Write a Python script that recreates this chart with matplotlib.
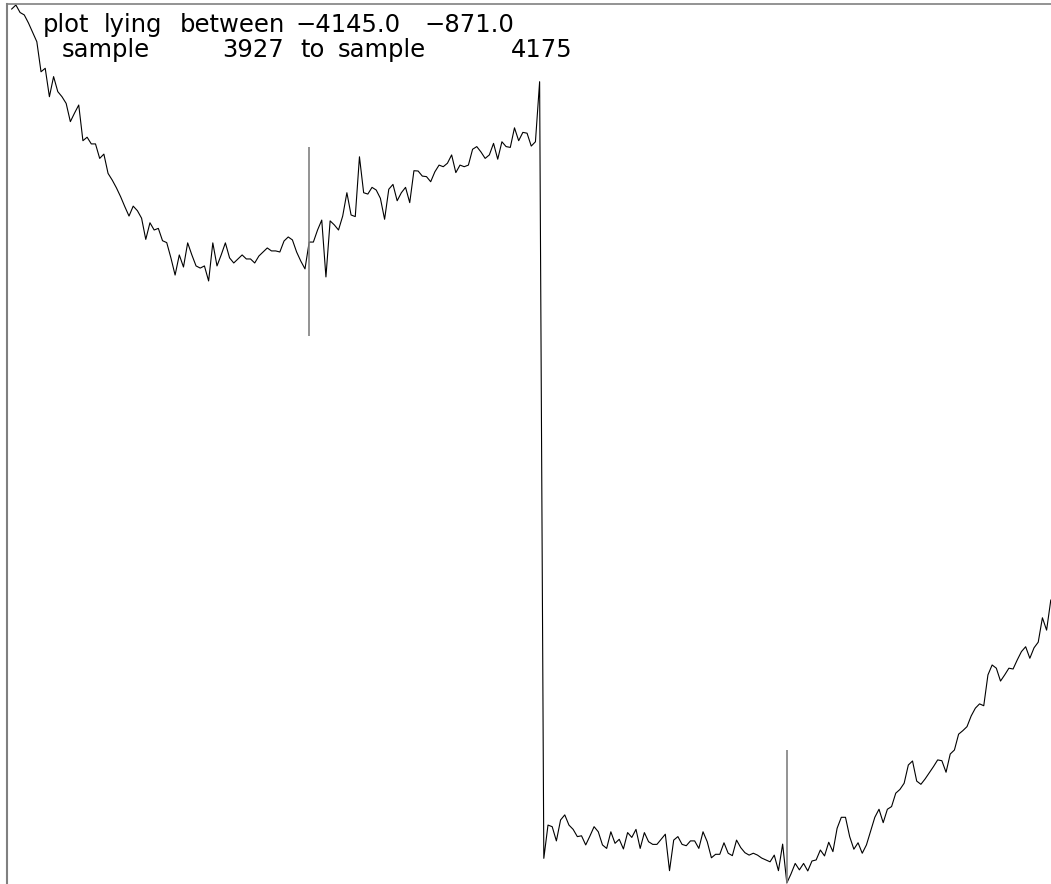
import numpy as np
import matplotlib
matplotlib.use("Agg")
import matplotlib.pyplot as plt

# trace window
first_sample = 3927
last_sample = 4175
trace_min = -4145.0
trace_max = -871.0

trace = [
    -886, -871, -899, -908, -938, -973, -1008, -1120, -1107, -1213,
    -1138, -1194, -1213, -1238, -1306, -1274, -1244, -1377, -1364, -1389,
    -1389, -1443, -1427, -1499, -1524, -1553, -1586, -1623, -1658, -1621,
    -1638, -1666, -1745, -1683, -1710, -1704, -1750, -1757, -1814, -1878,
    -1803, -1848, -1758, -1803, -1844, -1852, -1844, -1900, -1758, -1844,
    -1803, -1758, -1814, -1833, -1818, -1803, -1818, -1818, -1833, -1807,
    -1792, -1777, -1788, -1788, -1792, -1751, -1736, -1747, -1792, -1826,
    -1855, -1755, -1755, -1710, -1673, -1885, -1676, -1691, -1710, -1658,
    -1571, -1654, -1660, -1437, -1571, -1576, -1551, -1561, -1592, -1670,
    -1558, -1540, -1601, -1571, -1551, -1608, -1489, -1490, -1509, -1511,
    -1530, -1493, -1468, -1474, -1461, -1430, -1496, -1468, -1474, -1468,
    -1409, -1399, -1419, -1443, -1430, -1387, -1446, -1381, -1399, -1402,
    -1329, -1377, -1346, -1349, -1397, -1381, -1157, -4053, -3929, -3935,
    -3988, -3910, -3891, -3929, -3945, -3972, -3969, -4003, -3970, -3935,
    -3954, -4003, -4016, -3954, -3997, -3982, -4018, -3957, -3975, -3945,
    -4016, -3957, -3991, -4001, -4001, -3982, -3963, -4099, -3985, -3972,
    -4001, -4006, -3988, -3988, -4016, -3954, -3991, -4051, -4038, -4038,
    -3995, -4034, -4043, -3985, -4013, -4032, -4041, -4034, -4041, -4052,
    -4059, -4066, -4041, -4099, -4000, -4145, -4111, -4072, -4096, -4072,
    -4100, -4063, -4059, -4022, -4044, -3993, -4028, -3941, -3900, -3900,
    -3972, -4019, -3995, -4034, -4003, -3951, -3900, -3870, -3920, -3870,
    -3860, -3810, -3796, -3773, -3705, -3690, -3765, -3777, -3757, -3734,
    -3711, -3686, -3689, -3732, -3664, -3649, -3590, -3577, -3562, -3522,
    -3493, -3477, -3484, -3369, -3332, -3344, -3392, -3369, -3344, -3347,
    -3313, -3282, -3264, -3307, -3268, -3247, -3156, -3202, -3090,
]

# picked samples, drawn as grey bars
pick_samples = [3998, 4112]
pick_low = [-2105, -4145]
pick_high = [-1400, -3649]

samples = np.arange(first_sample, last_sample + 1)

W, H = 1051, 884
fig = plt.figure(figsize=(W / 100, H / 100), dpi=100)
ax = fig.add_axes([7 / W, 0, 1 - 7 / W, 880 / H])

ax.plot(samples, trace, color="black", lw=0.8)
ax.vlines(pick_samples, pick_low, pick_high, color="#808080", lw=1.2)

ax.set_xlim(first_sample - 1.12, last_sample + 0.05)
span = trace_max - trace_min
ax.set_ylim(trace_min - span / 878, trace_max + span / 878)

for side in ("bottom", "right"):
    ax.spines[side].set_visible(False)
ax.spines["left"].set_color("#808080")
ax.spines["left"].set_linewidth(1.5)
ax.spines["top"].set_color("#808080")
ax.spines["top"].set_linewidth(1.2)
ax.set_xticks([])
ax.set_yticks([])

# header, written word by word like a fixed-format print line
txt = dict(fontsize=17.5, family="DejaVu Sans", va="baseline", color="black")
row1 = 1 - 32 / H
row2 = 1 - 57 / H
fig.text(43 / W, row1, "plot", **txt)
fig.text(104 / W, row1, "lying", **txt)
fig.text(180 / W, row1, "between", **txt)
fig.text(295 / W, row1, f"\u2212{abs(trace_min):.1f}", **txt)
fig.text(424 / W, row1, f"\u2212{abs(trace_max):.1f}", **txt)
fig.text(62 / W, row2, "sample", **txt)
fig.text(284 / W, row2, f"{first_sample}", ha="right", **txt)
fig.text(300 / W, row2, "to", **txt)
fig.text(338 / W, row2, "sample", **txt)
fig.text(573 / W, row2, f"{last_sample}", ha="right", **txt)

fig.savefig("out.png", dpi=100)
